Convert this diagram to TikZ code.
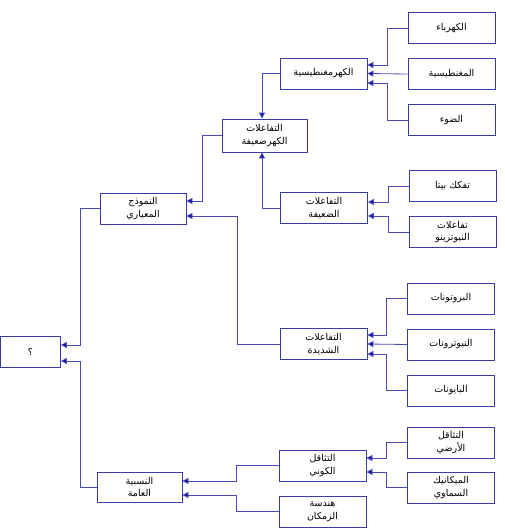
\documentclass[tikz,border=0pt]{standalone}
\usepackage{fontspec}
\usepackage{tikz}
\usetikzlibrary{arrows.meta}
\TeXXeTstate=1
\newfontfamily\arabicfont[Script=Arabic]{DejaVu Sans}
\newcommand{\artxt}[1]{{\arabicfont\beginR #1\endR}}
\definecolor{boxline}{HTML}{3A3AA8}
\definecolor{linkline}{HTML}{4A4AB8}
\definecolor{tipblue}{HTML}{1414A0}
\tikzset{
  topic/.style={draw=boxline, fill=white, align=center, inner sep=1pt,
    minimum width=87pt, minimum height=31pt, font=\fontsize{9.5}{12.5}\selectfont, line width=0.8pt},
  link/.style={-{Triangle[length=6pt,width=6pt,fill=tipblue]}, draw=linkline, line width=0.8pt}
}

\begin{document}
\begin{tikzpicture}[x=1pt, y=-1pt]
\useasboundingbox[fill=white] (0,0) rectangle (504,530);
% leaves, right column
\node[topic] (elec) at (451.5,28) {\artxt{الكهرباء}};
\node[topic] (magn) at (451.5,74) {\artxt{المغنطيسية}};
\node[topic] (light) at (451.5,120) {\artxt{الضوء}};
\node[topic] (beta) at (452.5,186) {\artxt{تفكك بيتا}};
\node[topic] (nu) at (452.5,232) {\artxt{تفاعلات}\\\artxt{النيوترينو}};
\node[topic] (proton) at (451,298.5) {\artxt{البروتونات}};
\node[topic] (neutron) at (451,344.5) {\artxt{النيوترونات}};
\node[topic] (pion) at (451,390.5) {\artxt{البايونات}};
\node[topic] (earth) at (451,442.5) {\artxt{التثاقل}\\\artxt{الأرضي}};
\node[topic] (celest) at (451,487.5) {\artxt{الميكانيك}\\\artxt{السماوي}};
% middle column
\node[topic] (em) at (323.5,73.5) {\artxt{الكهرمغنطيسية}};
\node[topic, minimum width=85pt, minimum height=33pt] (ew) at (264.5,135.5) {\artxt{التفاعلات}\\\artxt{الكهرضعيفة}};
\node[topic] (weak) at (324,208) {\artxt{التفاعلات}\\\artxt{الضعيفة}};
\node[topic] (strong) at (323.5,344) {\artxt{التفاعلات}\\\artxt{الشديدة}};
\node[topic] (cosmo) at (322.5,465.5) {\artxt{التثاقل}\\\artxt{الكوني}};
\node[topic] (geom) at (322.5,511.5) {\artxt{هندسة}\\\artxt{الزمكان}};
% left column
\node[topic, minimum width=86pt] (sm) at (143,208.5) {\artxt{النموذج}\\\artxt{المعياري}};
\node[topic, minimum width=85pt, minimum height=30pt] (gr) at (139.5,487) {\artxt{النسبية}\\\artxt{العامة}};
\node[topic, minimum width=60pt] (q) at (30.5,351.5) {\artxt{؟}};
% connectors
\draw[link] (elec.west) -- ++(-20,0) |- ([yshift=8.5pt]em.east);
\draw[link] (magn.west) -- (em.east);
\draw[link] (light.west) -- ++(-20,0) |- ([yshift=-9.5pt]em.east);
\draw[link] (beta.west) -- ++(-20,0) |- ([yshift=6pt]weak.east);
\draw[link] (nu.west) -- ++(-20,0) |- ([yshift=-8pt]weak.east);
\draw[link] (proton.west) -- ++(-21,0) |- ([yshift=9pt]strong.east);
\draw[link] (neutron.west) -- (strong.east);
\draw[link] (pion.west) -- ++(-21,0) |- ([yshift=-10pt]strong.east);
\draw[link] (earth.west) -- ++(-21,0) |- ([yshift=7.5pt]cosmo.east);
\draw[link] (celest.west) -- ++(-21,0) |- ([yshift=-6.5pt]cosmo.east);
\draw[link] (em.west) -| ([xshift=-2.5pt]ew.north);
\draw[link] (weak.west) -| ([xshift=-2.5pt]ew.south);
\draw[link] (ew.west) -- ++(-19,0) |- ([yshift=7.5pt]sm.east);
\draw[link] (strong.west) -- ++(-42,0) |- ([yshift=-7.5pt]sm.east);
\draw[link] (cosmo.west) -- ++(-42,0) |- ([yshift=6pt]gr.east);
\draw[link] (geom.west) -- ++(-42,0) |- ([yshift=-8pt]gr.east);
\draw[link] (sm.west) -- ++(-19,0) |- ([yshift=6.5pt]q.east);
\draw[link] (gr.west) -- ++(-16,0) |- ([yshift=-9.5pt]q.east);
\end{tikzpicture}
\end{document}
